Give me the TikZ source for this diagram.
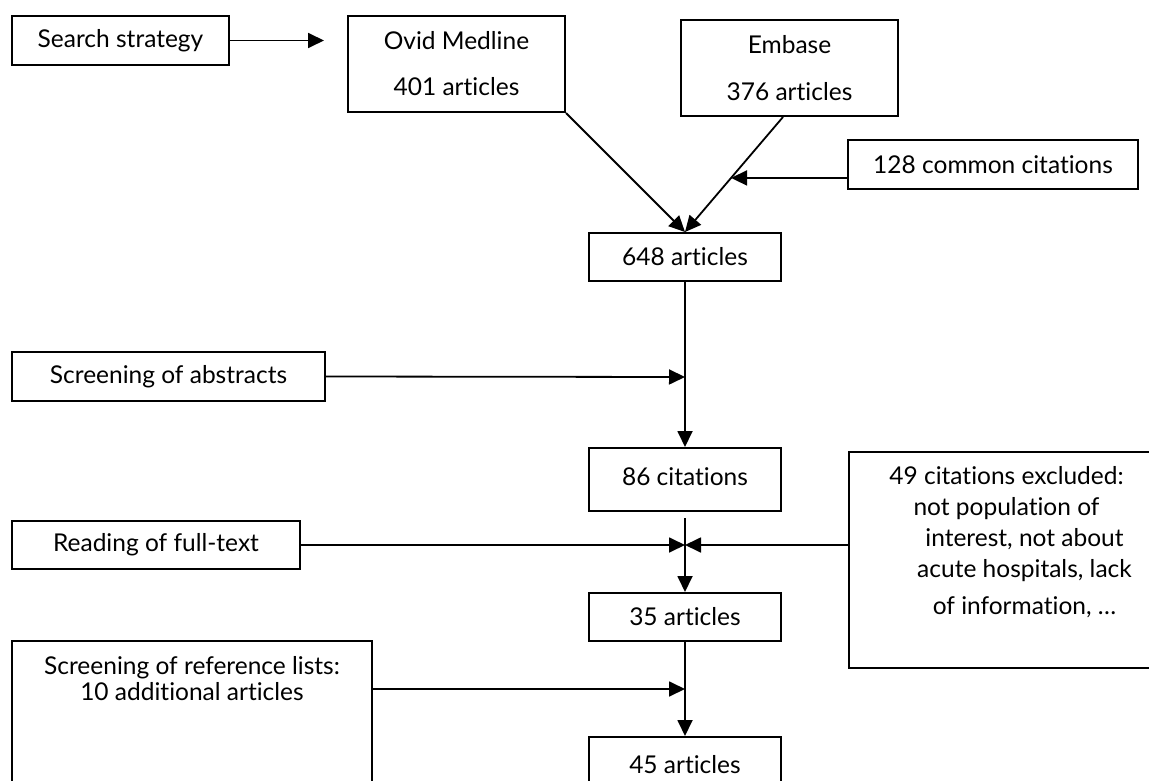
\documentclass[tikz,border=0pt]{standalone}
\usepackage{fontspec}
\setmainfont{Lato}[Ligatures=NoCommon]
\usetikzlibrary{arrows.meta,calc}
\begin{document}
\begin{tikzpicture}[x=1pt,y=-1pt,
  box/.style={draw, line width=2pt, inner sep=0pt, align=center, font=\fontsize{24.5}{28}\selectfont},
  txt/.style={inner sep=0pt, align=center, font=\fontsize{24.5}{28}\selectfont},
  arr/.style={line width=1.8pt, -{Triangle[length=16pt,width=15pt]}}]
\useasboundingbox (0,0) rectangle (1149,781);
% boxes
\node[box, minimum width=217pt, minimum height=49pt] (search) at (120.5,40.5) {Search strategy};
\node[box, minimum width=217pt, minimum height=96pt, font=\fontsize{24.5}{46}\selectfont] (ovid) at (456.5,64) {Ovid Medline\\401 articles};
\node[box, minimum width=217pt, minimum height=96pt, font=\fontsize{24.5}{47}\selectfont] (embase) at (789.5,68) {Embase\\376 articles};
\node[box, minimum width=290pt, minimum height=49pt] (common) at (993,164.5) {128 common citations};
\node[box, minimum width=192pt, minimum height=48pt] (n648) at (685,257) {648 articles};
\node[box, minimum width=313pt, minimum height=49pt] (abstr) at (168.5,376.5) {Screening of abstracts};
\node[box, minimum width=192pt, minimum height=63pt] (n86) at (685,479.5) {\raisebox{6pt}{86 citations}};
\node[box, minimum width=288pt, minimum height=48pt] (full) at (156,545) {Reading of full-text};
\node[box, minimum width=302pt, minimum height=216pt] (excl) at (1000,560) {};
\node[txt, anchor=north, font=\fontsize{24.5}{31}\selectfont] (excltxt) at (1000,466) {%
\hspace*{13pt}49 citations excluded:\\
\hspace*{13pt}not population of\\
\hspace*{49pt}interest, not about\\
\hspace*{49pt}acute hospitals, lack\\[6pt]
\hspace*{49pt}of information, \dots};
\node[box, minimum width=192pt, minimum height=48pt] (n35) at (685,617) {35 articles};
\node[box, minimum width=360pt, minimum height=160pt] (ref) at (192,721) {};
\node[txt, font=\fontsize{24.5}{26}\selectfont] (reftxt) at (192,679) {Screening of reference lists:\\10 additional articles};
\node[box, minimum width=192pt, minimum height=64pt] (n45) at (685,769) {\raisebox{9pt}{45 articles}};
% coordinates
\coordinate (ovidin) at (324,40.5);
\coordinate (eb) at ($(embase.south)+(-6.5,0)$);
\coordinate (cm) at ($(eb)!0.53!(n648.north)$);
\coordinate (j1) at (685,377);
\coordinate (s86) at (685,518);
\coordinate (j2) at (685,545);
\coordinate (j3) at (685,689);
% connectors
\draw[arr] (search.east) -- (ovidin);
\draw[arr] (ovid.south east) -- (n648.north);
\draw[arr] (eb) -- (n648.north);
\draw[arr] (common.west |- cm) -- (cm);
\draw[arr] (n648.south) -- (n86.north);
\draw[arr] (abstr.east) -- (j1);
\draw[arr] (s86) -- (n35.north);
\draw[arr] (full.east) -- (j2);
\draw[arr] (excl.west |- j2) -- (j2);
\draw[arr] (n35.south) -- (n45.north);
\draw[arr] (ref.east |- j3) -- (j3);
\end{tikzpicture}
\end{document}
